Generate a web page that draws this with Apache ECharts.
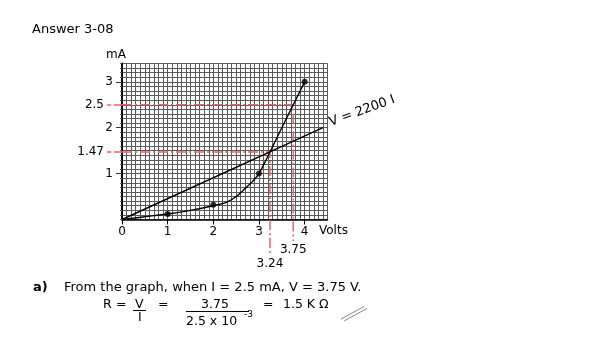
<!DOCTYPE html>
<html><head><meta charset="utf-8">
<script src="https://cdn.jsdelivr.net/npm/echarts@6/dist/echarts.min.js"></script>
<style>html,body{margin:0;padding:0;background:#fff}#c{width:600px;height:351px}</style>
</head><body><div id="c"></div>
<script>
// Diode curve (Volts vs mA)
const voltsCurve = [0, 0.5, 1, 1.5, 2, 2.3, 2.5, 2.7, 2.85, 3, 3.5, 4];
const mACurve    = [0, 0.06, 0.12, 0.2, 0.3, 0.38, 0.5, 0.68, 0.82, 1.0, 2.0, 3.0];
// Plotted measurement points
const voltsPoints = [1, 2, 3, 4];
const mAPoints    = [0.12, 0.32, 1.0, 3.0];
// Load line V = 2200 I
const voltsLoad = [0, 4.4];
const mALoad    = [0, 2.0];
// Read-off values
const readCurrents = [2.5, 1.47];
const readVolts    = [3.75, 3.24];
// Tick labels
const xTickValues = [0, 1, 2, 3, 4];
const yTickValues = [1, 2, 3];

const FONT = 'DejaVu Sans';
const chart = echarts.init(document.getElementById('c'), null, {renderer: 'canvas'});

const toPairs = (xs, ys) => xs.map((x, i) => [x, ys[i]]);
const drops = [-0.47, -0.77];
const RED = '#f06060';
const redSeries = readCurrents.map((cur, i) => ({
  type: 'line', clip: false, silent: true, z: 3,
  symbol: 'circle', symbolSize: 0.1, showSymbol: true,
  itemStyle: {color: 'rgba(0,0,0,0)'},
  lineStyle: {color: RED, width: 1.5, type: [10, 3, 2, 3]},
  data: [
    [0, cur],
    [readVolts[i], cur],
    {value: [readVolts[i], drops[i]],
     label: {show: true, position: 'bottom', distance: 3, formatter: String(readVolts[i]),
             color: '#000', fontFamily: FONT, fontSize: 12}}
  ]
}));

const axisLblStyle = {color: '#000', fontFamily: FONT, fontSize: 12};

const option = {
  backgroundColor: '#fff',
  animation: false,
  grid: {left: 122, top: 63.5, width: 205.5, height: 156, containLabel: false},
  xAxis: [
    {type: 'value', min: 0, max: 4.5, interval: 0.1, position: 'bottom',
     axisLine: {show: false}, axisTick: {show: false}, axisLabel: {show: false},
     splitLine: {show: true, lineStyle: {color: '#5a5a5a', width: 1}}},
    {type: 'value', min: 0, max: 4.5, interval: 1, position: 'bottom',
     axisLine: {show: true, onZero: false, lineStyle: {color: '#000', width: 1.5}},
     axisTick: {show: true, length: 5, customValues: xTickValues, lineStyle: {color: '#000'}},
     axisLabel: Object.assign({show: true, margin: 6, customValues: xTickValues}, axisLblStyle),
     splitLine: {show: false}}
  ],
  yAxis: [
    {type: 'value', min: 0, max: 3.4, interval: 0.1, position: 'left',
     axisLine: {show: false}, axisTick: {show: true, length: 2, lineStyle: {color: '#666'}},
     axisLabel: {show: false},
     splitLine: {show: true, lineStyle: {color: '#5a5a5a', width: 1}}},
    {type: 'value', min: 0, max: 3.4, interval: 1, position: 'left',
     axisLine: {show: true, onZero: false, lineStyle: {color: '#000', width: 2}},
     axisTick: {show: true, length: 6, customValues: yTickValues, lineStyle: {color: '#333'}},
     axisLabel: Object.assign({show: true, margin: 9, customValues: yTickValues}, axisLblStyle),
     splitLine: {show: false}},
    {type: 'value', min: 0, max: 3.4, interval: 1, position: 'left',
     axisLine: {show: false},
     axisTick: {show: true, length: 15, customValues: readCurrents, lineStyle: {color: RED, width: 1.5, type: [8, 3]}},
     axisLabel: Object.assign({show: true, margin: 18, customValues: readCurrents}, axisLblStyle),
     splitLine: {show: false}}
  ],
  series: [
    ...redSeries,
    {type: 'line', silent: true, symbol: 'none', smooth: 0.3, z: 4,
     lineStyle: {color: '#000', width: 1.4},
     data: toPairs(voltsCurve, mACurve)},
    {type: 'line', silent: true, symbol: 'none', z: 4,
     lineStyle: {color: '#000', width: 1.4},
     data: toPairs(voltsLoad, mALoad)},
    {type: 'scatter', silent: true, symbol: 'circle', symbolSize: 6, z: 5,
     itemStyle: {color: '#000'},
     data: toPairs(voltsPoints, mAPoints)}
  ],
  graphic: [
    {type: 'text', left: 32, top: 23, style: {text: 'Answer 3-08', fill: '#000', font: '13px "DejaVu Sans"'}},
    {type: 'text', left: 106, top: 49, style: {text: 'mA', fill: '#000', font: '12px "DejaVu Sans"'}},
    {type: 'text', left: 319, top: 225, style: {text: 'Volts', fill: '#000', font: '12px "DejaVu Sans"'}},
    {type: 'text', x: 362, y: 111, rotation: 20 * Math.PI / 180,
     style: {text: 'V = 2200 I', fill: '#000', font: '13px "DejaVu Sans"', align: 'center', verticalAlign: 'middle'}},
    {type: 'text', left: 33, top: 281, style: {text: 'a)', fill: '#000', font: 'bold 13px "DejaVu Sans"'}},
    {type: 'text', left: 64, top: 281, style: {text: 'From the graph, when I = 2.5 mA, V = 3.75 V.', fill: '#000', font: '13px "DejaVu Sans"'}},
    {type: 'text', left: 103, top: 298, style: {text: 'R', fill: '#000', font: '12.5px "DejaVu Sans"'}},
    {type: 'text', left: 116, top: 298, style: {text: '=', fill: '#000', font: '12.5px "DejaVu Sans"'}},
    {type: 'text', left: 135, top: 298, style: {text: 'V', fill: '#000', font: '12.5px "DejaVu Sans"'}},
    {type: 'line', shape: {x1: 133, y1: 310.5, x2: 146, y2: 310.5}, style: {stroke: '#000', lineWidth: 1}},
    {type: 'text', left: 138, top: 311, style: {text: 'I', fill: '#000', font: '12.5px "DejaVu Sans"'}},
    {type: 'text', left: 158, top: 298, style: {text: '=', fill: '#000', font: '12.5px "DejaVu Sans"'}},
    {type: 'text', left: 201, top: 298, style: {text: '3.75', fill: '#000', font: '12.5px "DejaVu Sans"'}},
    {type: 'line', shape: {x1: 186, y1: 311.5, x2: 249, y2: 311.5}, style: {stroke: '#000', lineWidth: 1}},
    {type: 'text', left: 186, top: 315, style: {text: '2.5 x 10', fill: '#000', font: '12.5px "DejaVu Sans"'}},
    {type: 'text', left: 244, top: 310, style: {text: '-3', fill: '#000', font: '9px "DejaVu Sans"'}},
    {type: 'text', left: 263, top: 298, style: {text: '=', fill: '#000', font: '12.5px "DejaVu Sans"'}},
    {type: 'text', left: 283, top: 298, style: {text: '1.5 K Ω', fill: '#000', font: '12.5px "DejaVu Sans"'}},
    {type: 'line', shape: {x1: 341, y1: 319, x2: 364, y2: 306.5}, style: {stroke: '#888', lineWidth: 1}},
    {type: 'line', shape: {x1: 344, y1: 321, x2: 367, y2: 308.5}, style: {stroke: '#888', lineWidth: 1}}
  ]
};
chart.setOption(option);
</script>
</body></html>
